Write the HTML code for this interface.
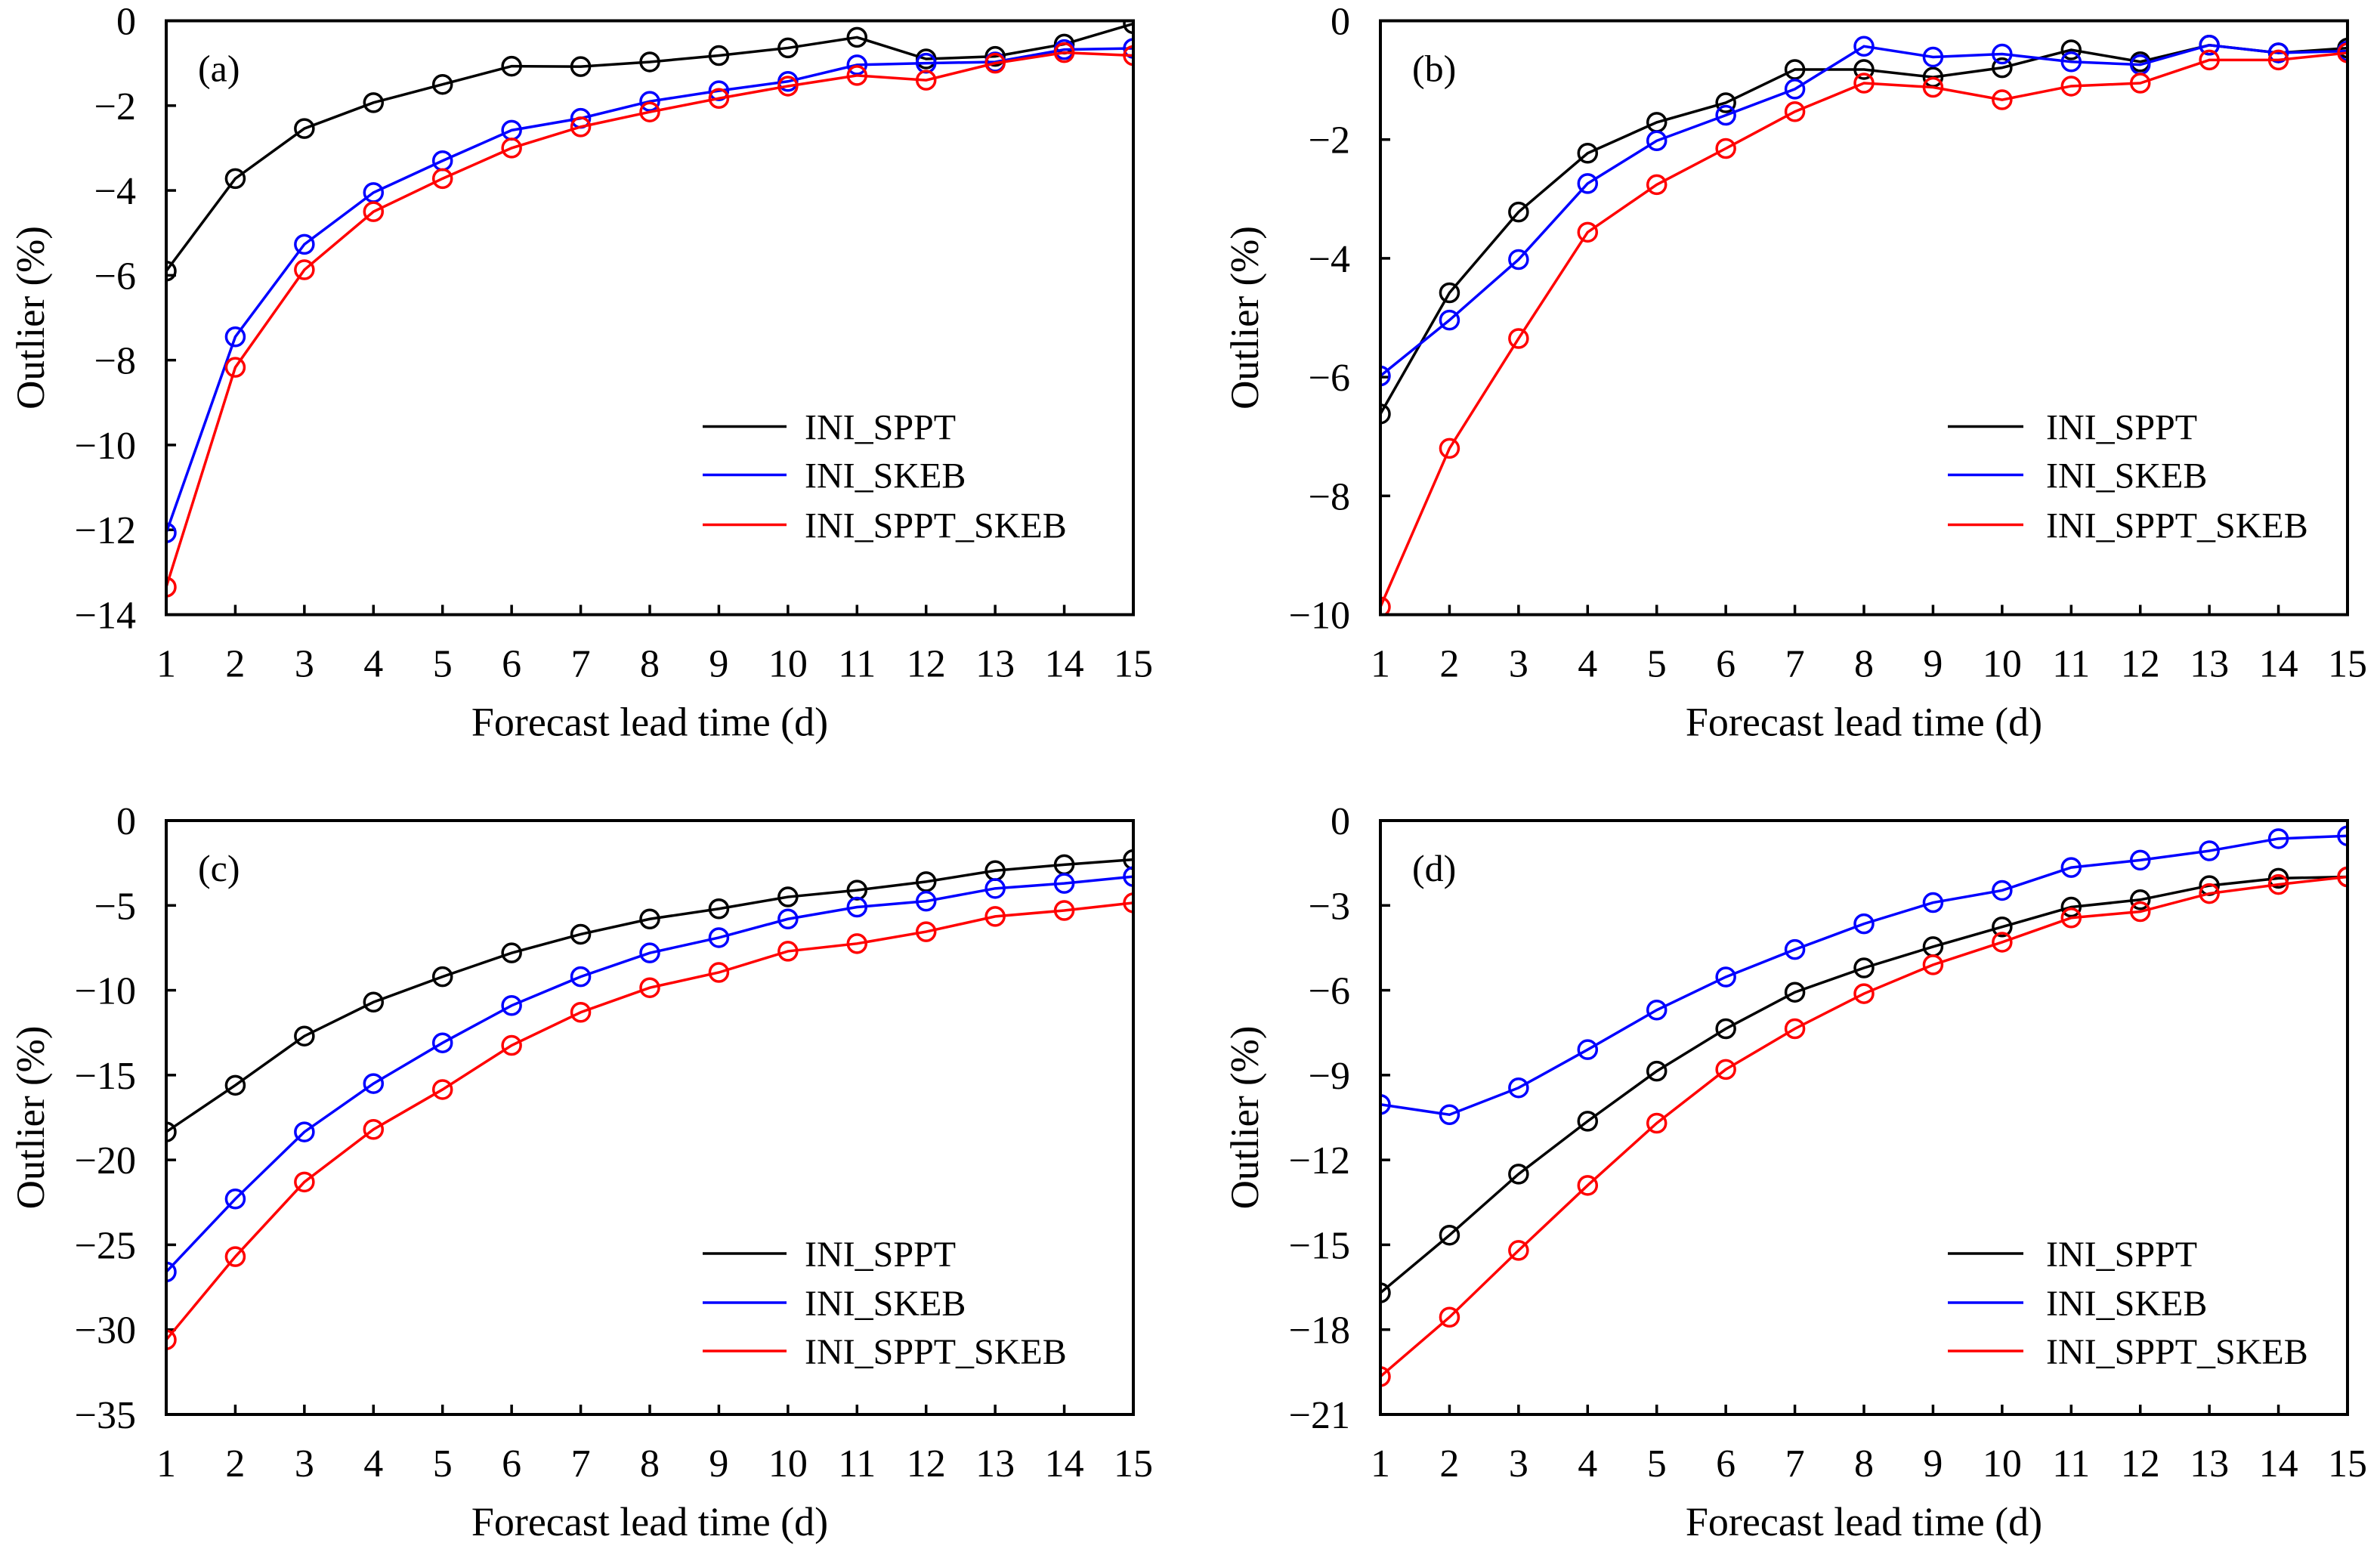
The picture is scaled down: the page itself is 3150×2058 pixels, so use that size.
<!DOCTYPE html>
<html><head><meta charset="utf-8"><style>
html,body{margin:0;padding:0;background:#fff;}
svg text{font-family:"Liberation Serif",serif;fill:#000;}
</style></head><body>
<svg id="fig" width="3150" height="2053" viewBox="0 0 3150 2053" xmlns="http://www.w3.org/2000/svg"></svg>
<script>
const days = [1,2,3,4,5,6,7,8,9,10,11,12,13,14,15];
const seriesNames = ["INI_SPPT","INI_SKEB","INI_SPPT_SKEB"];
const seriesColors = ["#000000","#0000ff","#ff0000"];
const aSppt = [-5.9,-3.72,-2.54,-1.93,-1.5,-1.07,-1.08,-0.97,-0.82,-0.64,-0.39,-0.9,-0.84,-0.55,-0.07];
const aSkeb = [-12.07,-7.45,-5.27,-4.05,-3.3,-2.58,-2.3,-1.9,-1.65,-1.43,-1.04,-1.0,-0.97,-0.68,-0.65];
const aBoth = [-13.35,-8.17,-5.87,-4.5,-3.72,-3.0,-2.5,-2.15,-1.83,-1.54,-1.29,-1.4,-1.0,-0.75,-0.82];
const bSppt = [-6.62,-4.58,-3.22,-2.23,-1.71,-1.38,-0.82,-0.82,-0.95,-0.79,-0.49,-0.69,-0.41,-0.54,-0.46];
const bSkeb = [-5.98,-5.04,-4.02,-2.74,-2.02,-1.59,-1.15,-0.43,-0.61,-0.56,-0.69,-0.74,-0.41,-0.54,-0.51];
const bBoth = [-9.87,-7.2,-5.35,-3.56,-2.76,-2.15,-1.53,-1.05,-1.12,-1.33,-1.1,-1.05,-0.66,-0.66,-0.54];
const cSppt = [-18.35,-15.6,-12.7,-10.7,-9.2,-7.8,-6.7,-5.8,-5.2,-4.5,-4.1,-3.6,-2.95,-2.6,-2.3];
const cSkeb = [-26.6,-22.3,-18.35,-15.5,-13.1,-10.9,-9.2,-7.8,-6.9,-5.8,-5.1,-4.75,-4.0,-3.7,-3.3];
const cBoth = [-30.6,-25.7,-21.3,-18.2,-15.85,-13.25,-11.3,-9.85,-8.95,-7.7,-7.25,-6.55,-5.65,-5.3,-4.85];
const dSppt = [-16.7,-14.66,-12.5,-10.63,-8.86,-7.36,-6.07,-5.21,-4.46,-3.76,-3.06,-2.8,-2.3,-2.04,-1.99];
const dSkeb = [-10.04,-10.4,-9.45,-8.1,-6.7,-5.53,-4.56,-3.65,-2.9,-2.47,-1.66,-1.4,-1.07,-0.64,-0.54];
const dBoth = [-19.66,-17.56,-15.2,-12.9,-10.7,-8.8,-7.36,-6.12,-5.1,-4.3,-3.44,-3.22,-2.58,-2.26,-1.99];
const aTicks = [0,-2,-4,-6,-8,-10,-12,-14];
const bTicks = [0,-2,-4,-6,-8,-10];
const cTicks = [0,-5,-10,-15,-20,-25,-30,-35];
const dTicks = [0,-3,-6,-9,-12,-15,-18,-21];
const panelLabels = ["(a)","(b)","(c)","(d)"];

const NS = "http://www.w3.org/2000/svg";
const svg = document.getElementById("fig");
function mk(tag, attrs, parent){
  const e = document.createElementNS(NS, tag);
  for (const k in attrs) e.setAttribute(k, attrs[k]);
  (parent||svg).appendChild(e);
  return e;
}
const W = 1280, H = 786;
const panels = [
  {x:220, y:27.5, ticks:aTicks, data:[aSppt,aSkeb,aBoth], lgLine:[710,821], lgText:845, lgRows:[537,601,667]},
  {x:1827, y:27.5, ticks:bTicks, data:[bSppt,bSkeb,bBoth], lgLine:[751,851], lgText:881, lgRows:[537,601,667]},
  {x:220, y:1086, ticks:cTicks, data:[cSppt,cSkeb,cBoth], lgLine:[710,821], lgText:845, lgRows:[573,638,702]},
  {x:1827, y:1086, ticks:dTicks, data:[dSppt,dSkeb,dBoth], lgLine:[751,851], lgText:881, lgRows:[573,638,702]}
];
const defs = mk("defs", {});
panels.forEach((p, pi) => {
  const g = mk("g", {});
  
  
  const ymin = p.ticks[p.ticks.length-1], ymax = p.ticks[0];
  const xs = d => p.x + (d - 1) / 14 * W;
  const ys = v => p.y + (ymax - v) / (ymax - ymin) * H;
  const cp = mk("clipPath", {id:"clip"+pi}, defs);
  mk("rect", {x:p.x, y:p.y, width:W, height:H}, cp);
  days.forEach(d => {
    const t = mk("line", {x1:xs(d), x2:xs(d), y1:p.y+H, y2:p.y+H-13, stroke:"#000","stroke-width":3.5}, g);
    
    
    const lb = mk("text", {x:xs(d), y:p.y+H+82, "text-anchor":"middle","font-size":52}, g);
    lb.textContent = d;
    
    
  });
  p.ticks.forEach(v => {
    const t = mk("line", {x1:p.x, x2:p.x+13, y1:ys(v), y2:ys(v), stroke:"#000","stroke-width":3.5}, g);
    
    
    const lb = mk("text", {x:p.x-40, y:ys(v)+18, "text-anchor":"end","font-size":52}, g);
    lb.textContent = v < 0 ? "\u2212" + (-v) : String(v);
    
    
  });
  const yt = mk("text", {x:0, y:0, "text-anchor":"middle","font-size":53, transform:`translate(${p.x-162},${p.y+H/2}) rotate(-90)`}, g);
  yt.textContent = "Outlier (%)";
  
  
  const xt = mk("text", {x:p.x+W/2, y:p.y+H+160, "text-anchor":"middle","font-size":54}, g);
  xt.textContent = "Forecast lead time (d)";
  
  
  const pl = mk("text", {x:p.x+42, y:p.y+80, "font-size":50}, g);
  pl.textContent = panelLabels[pi];
  
  
  const sg = mk("g", {"clip-path":`url(#clip${pi})`}, g);
  p.data.forEach((vals, si) => {
    const pts = vals.map((v,i) => xs(days[i]) + "," + ys(v)).join(" ");
    const ln = mk("polyline", {points:pts, fill:"none", stroke:seriesColors[si], "stroke-width":3.5}, sg);
    
    
    vals.forEach((v,i) => {
      const c = mk("circle", {cx:xs(days[i]), cy:ys(v), r:12, fill:"none", stroke:seriesColors[si], "stroke-width":3.5}, sg);
      
      
    });
  });
  seriesNames.forEach((n, si) => {
    const yy = p.y + p.lgRows[si];
    const l = mk("line", {x1:p.x+p.lgLine[0], x2:p.x+p.lgLine[1], y1:yy, y2:yy, stroke:seriesColors[si], "stroke-width":3.5}, g);
    
    
    const tx = mk("text", {x:p.x+p.lgText, y:yy+17, "font-size":48}, g);
    tx.textContent = n;
    
    
  });
  const fr = mk("rect", {x:p.x, y:p.y, width:W, height:H, fill:"none", stroke:"#000","stroke-width":4}, g);
  
  
});
</script>
</body></html>
